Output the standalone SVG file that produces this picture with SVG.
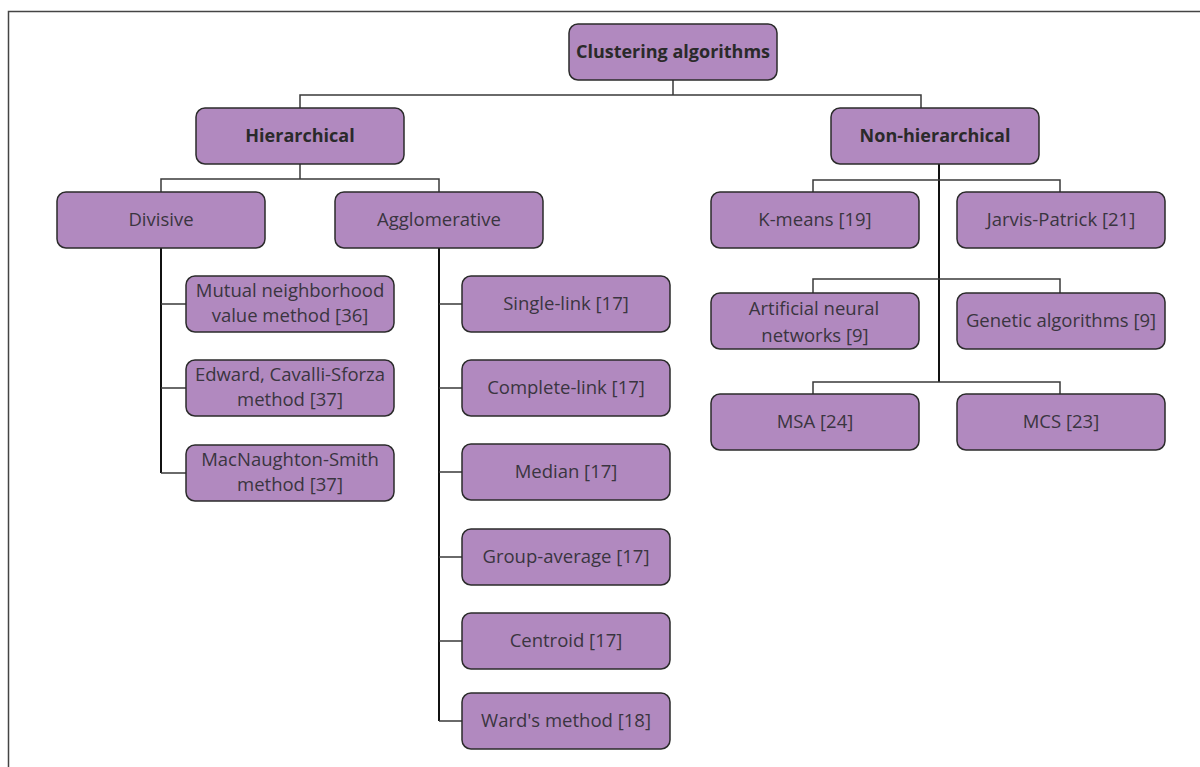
<svg xmlns="http://www.w3.org/2000/svg" width="1200" height="767" viewBox="0 0 1200 767">
<style>
.box{fill:#b189bf;stroke:#2b2b2b;stroke-width:1.5}
.t{font-family:"Open Sans","Noto Sans",sans-serif;font-size:18.5px;fill:#3a3540;text-anchor:middle}
.b{font-family:"Open Sans","Noto Sans",sans-serif;font-size:18px;font-weight:bold;fill:#2a2a2a;text-anchor:middle}
.c{fill:none;stroke:#3a3a3a;stroke-width:1.5}
.k{fill:none;stroke:#111;stroke-width:2}
</style>
<rect x="8.5" y="11.5" width="1300" height="1000" fill="#fff" stroke="#444" stroke-width="1.5"/>
<g id="connectors">
<path class="c" d="M673 80V95M300 108V95H921V108"/>
<path class="c" d="M300 164V179M161 192V179H439V192"/>
<path class="k" d="M161 248V473"/>
<path class="c" d="M161 304H186M161 388H186M161 473H186"/>
<path class="k" d="M439 248V721"/>
<path class="c" d="M439 304H462M439 388H462M439 472H462M439 557H462M439 641H462M439 721H462"/>
<path class="k" d="M939 164V382"/>
<path class="c" d="M813 192V180H1060V192M813 293V279H1060V293M813 394V382H1060V394"/>
</g>
<g id="n-clustering"><rect class="box" x="569" y="24" width="208" height="56" rx="9"/><text class="b" x="673" y="58">Clustering algorithms</text></g>
<g id="n-hier"><rect class="box" x="196" y="108" width="208" height="56" rx="9"/><text class="b" x="300" y="142">Hierarchical</text></g>
<g id="n-nonhier"><rect class="box" x="831" y="108" width="208" height="56" rx="9"/><text class="b" x="935" y="142">Non-hierarchical</text></g>
<g id="n-divisive"><rect class="box" x="57" y="192" width="208" height="56" rx="9"/><text class="t" x="161" y="226">Divisive</text></g>
<g id="n-agglo"><rect class="box" x="335" y="192" width="208" height="56" rx="9"/><text class="t" x="439" y="226">Agglomerative</text></g>
<g id="n-kmeans"><rect class="box" x="711" y="192" width="208" height="56" rx="9"/><text class="t" x="815" y="226">K-means [19]</text></g>
<g id="n-jarvis"><rect class="box" x="957" y="192" width="208" height="56" rx="9"/><text class="t" x="1061" y="226">Jarvis-Patrick [21]</text></g>
<g id="n-ann"><rect class="box" x="711" y="293" width="208" height="56" rx="9"/><text class="t" x="814" y="315">Artificial neural</text><text class="t" x="815" y="342">networks [9]</text></g>
<g id="n-genetic"><rect class="box" x="957" y="293" width="208" height="56" rx="9"/><text class="t" x="1061" y="327">Genetic algorithms [9]</text></g>
<g id="n-msa"><rect class="box" x="711" y="394" width="208" height="56" rx="9"/><text class="t" x="815" y="428">MSA [24]</text></g>
<g id="n-mcs"><rect class="box" x="957" y="394" width="208" height="56" rx="9"/><text class="t" x="1061" y="428">MCS [23]</text></g>
<g id="n-mnv"><rect class="box" x="186" y="276" width="208" height="56" rx="9"/><text class="t" x="290" y="297">Mutual neighborhood</text><text class="t" x="290" y="322">value method [36]</text></g>
<g id="n-edward"><rect class="box" x="186" y="360" width="208" height="56" rx="9"/><text class="t" x="290" y="381">Edward, Cavalli-Sforza</text><text class="t" x="290" y="406">method [37]</text></g>
<g id="n-macn"><rect class="box" x="186" y="445" width="208" height="56" rx="9"/><text class="t" x="290" y="466">MacNaughton-Smith</text><text class="t" x="290" y="491">method [37]</text></g>
<g id="n-single"><rect class="box" x="462" y="276" width="208" height="56" rx="9"/><text class="t" x="566" y="310">Single-link [17]</text></g>
<g id="n-complete"><rect class="box" x="462" y="360" width="208" height="56" rx="9"/><text class="t" x="566" y="394">Complete-link [17]</text></g>
<g id="n-median"><rect class="box" x="462" y="444" width="208" height="56" rx="9"/><text class="t" x="566" y="478">Median [17]</text></g>
<g id="n-group"><rect class="box" x="462" y="529" width="208" height="56" rx="9"/><text class="t" x="566" y="563">Group-average [17]</text></g>
<g id="n-centroid"><rect class="box" x="462" y="613" width="208" height="56" rx="9"/><text class="t" x="566" y="647">Centroid [17]</text></g>
<g id="n-ward"><rect class="box" x="462" y="693" width="208" height="56" rx="9"/><text class="t" x="566" y="727">Ward's method [18]</text></g>
</svg>
